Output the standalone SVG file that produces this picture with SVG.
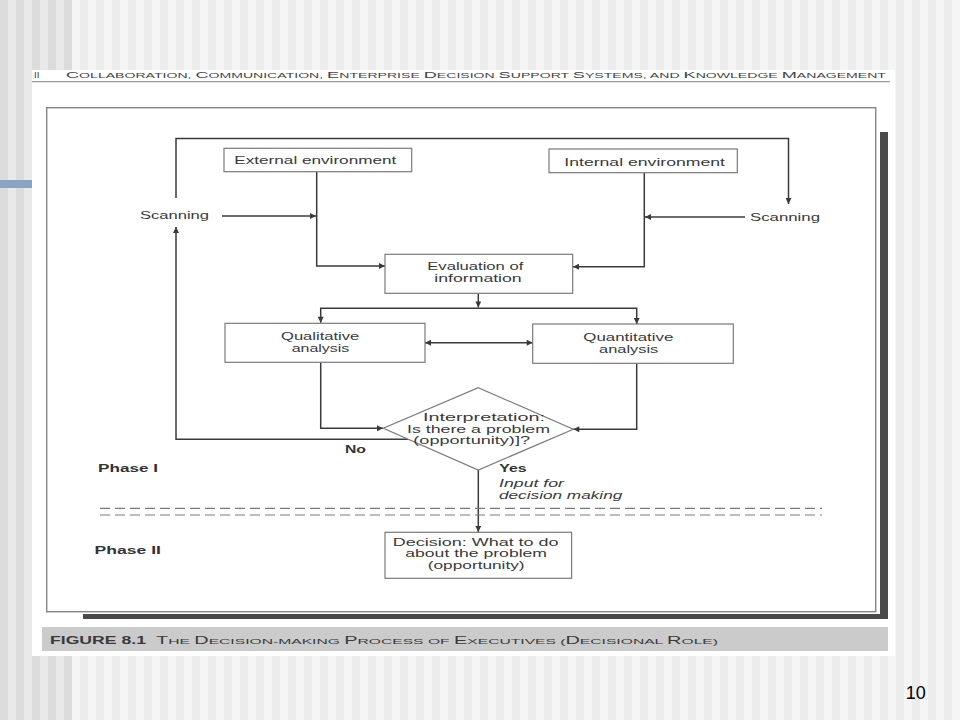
<svg xmlns="http://www.w3.org/2000/svg" width="960" height="720" viewBox="0 0 960 720">
<defs>
<pattern id="stripesL" x="0" y="0" width="16" height="720" patternUnits="userSpaceOnUse">
<rect x="0" y="0" width="8" height="720" fill="#dcdcdc"/>
<rect x="8" y="0" width="8" height="720" fill="#e9e9e9"/>
</pattern>
<pattern id="stripesR" x="0" y="0" width="16" height="720" patternUnits="userSpaceOnUse">
<rect x="0" y="0" width="8" height="720" fill="#ececec"/>
<rect x="8" y="0" width="8" height="720" fill="#f5f5f5"/>
</pattern>
<marker id="ah" viewBox="0 0 10 10" refX="10" refY="5" markerWidth="8" markerHeight="6" markerUnits="userSpaceOnUse" orient="auto-start-reverse">
<path d="M0,0 L10,5 L0,10 Z" fill="#3a3a3a"/>
</marker>
</defs>
<style>
.box{fill:#ffffff;stroke:#7a7a7a;stroke-width:1.2}
.con{fill:none;stroke:#3a3a3a;stroke-width:1.5}
.t{font-family:"Liberation Sans",Arial,sans-serif;font-size:10.4px;fill:#3a3a3a}
.b{font-weight:bold;fill:#333333;font-size:11px}
.i{font-style:italic}
.hd{font-family:"Liberation Sans",Arial,sans-serif;font-size:7.6px;fill:#444444}
.B{font-size:9.8px}
.cap{font-family:"Liberation Sans",Arial,sans-serif;font-size:8px;fill:#3a3a3a}
.C{font-size:10.2px}
</style>
<rect x="0" y="0" width="960" height="720" fill="url(#stripesR)"/>
<rect x="0" y="0" width="72" height="720" fill="url(#stripesL)"/>
<rect x="0" y="180" width="32" height="8" fill="#8ba4c4"/>
<g id="page">
<rect x="32" y="70" width="863" height="586" fill="#ffffff"/>
<text class="hd" x="34" y="78.3"><tspan class="B">II</tspan></text>
<text class="hd" x="66" y="78.3" textLength="820" lengthAdjust="spacingAndGlyphs"><tspan class="B">C</tspan>OLLABORATION, <tspan class="B">C</tspan>OMMUNICATION, <tspan class="B">E</tspan>NTERPRISE <tspan class="B">D</tspan>ECISION <tspan class="B">S</tspan>UPPORT <tspan class="B">S</tspan>YSTEMS, AND <tspan class="B">K</tspan>NOWLEDGE <tspan class="B">M</tspan>ANAGEMENT</text>
<line x1="32" y1="81.7" x2="890" y2="81.7" stroke="#9a9a9a" stroke-width="1.2"/>
<rect x="46.7" y="107.7" width="829" height="504" fill="none" stroke="#858585" stroke-width="1.4"/>
<rect x="880" y="132" width="8" height="487" fill="#4a4a4a"/>
<rect x="83" y="614" width="805" height="5" fill="#4a4a4a"/>
<rect x="42" y="627" width="846" height="24" fill="#cbcbcb"/>
<text class="cap" x="50" y="643.5" textLength="96" lengthAdjust="spacingAndGlyphs" style="font-size:10.4px;font-weight:bold">FIGURE 8.1</text>
<text class="cap" x="156" y="643.5" textLength="562" lengthAdjust="spacingAndGlyphs"><tspan class="C">T</tspan>HE <tspan class="C">D</tspan>ECISION-MAKING <tspan class="C">P</tspan>ROCESS OF <tspan class="C">E</tspan>XECUTIVES (<tspan class="C">D</tspan>ECISIONAL <tspan class="C">R</tspan>OLE)</text>
</g>
<g id="connectors">
<path class="con" d="M176,198 V138.5 H788.5 V204" marker-end="url(#ah)"/>
<path class="con" d="M222,216 H316" marker-end="url(#ah)"/>
<path class="con" d="M745,217 H645" marker-end="url(#ah)"/>
<path class="con" d="M316.7,172 V266 H385" marker-end="url(#ah)"/>
<path class="con" d="M644.3,173 V266.7 H573" marker-end="url(#ah)"/>
<path class="con" d="M478.3,293.5 V307.5" marker-end="url(#ah)"/>
<path class="con" d="M320.7,322.7 V308.3 H636.7 V324" marker-start="url(#ah)" marker-end="url(#ah)"/>
<path class="con" d="M425,342.7 H532.7" marker-start="url(#ah)" marker-end="url(#ah)"/>
<path class="con" d="M320.7,362.3 V428.3 H383" marker-end="url(#ah)"/>
<path class="con" d="M636.7,363.3 V429.3 H573.3" marker-end="url(#ah)"/>
<path class="con" d="M408.5,439.3 H176 V227" marker-end="url(#ah)"/>
<path class="con" d="M478.3,470 V532" marker-end="url(#ah)"/>
<line x1="100" y1="508.3" x2="822" y2="508.3" stroke="#7a7a7a" stroke-width="1.2" stroke-dasharray="10 5"/>
<line x1="100" y1="515" x2="822" y2="515" stroke="#7a7a7a" stroke-width="1.2" stroke-dasharray="10 5"/>
</g>
<g id="external">
<rect class="box" x="224" y="148.3" width="187.7" height="23.4"/>
<text class="t" x="234.3" y="164.3" textLength="162" lengthAdjust="spacingAndGlyphs">External environment</text>
</g>
<g id="internal">
<rect class="box" x="549" y="149" width="188.3" height="23.7"/>
<text class="t" x="564.3" y="165.5" textLength="160.7" lengthAdjust="spacingAndGlyphs">Internal environment</text>
</g>
<g id="scanning-left">
<text class="t" x="140" y="219" textLength="69" lengthAdjust="spacingAndGlyphs">Scanning</text>
</g>
<g id="scanning-right">
<text class="t" x="750" y="220.5" textLength="70" lengthAdjust="spacingAndGlyphs">Scanning</text>
</g>
<g id="evaluation">
<rect class="box" x="385" y="254.3" width="187.7" height="39"/>
<text class="t" x="427.3" y="270" textLength="96" lengthAdjust="spacingAndGlyphs">Evaluation of</text>
<text class="t" x="434.3" y="281.7" textLength="87.4" lengthAdjust="spacingAndGlyphs">information</text>
</g>
<g id="qualitative">
<rect class="box" x="225" y="323.3" width="200" height="39"/>
<text class="t" x="281" y="340" textLength="78.3" lengthAdjust="spacingAndGlyphs">Qualitative</text>
<text class="t" x="291.7" y="352.3" textLength="57.6" lengthAdjust="spacingAndGlyphs">analysis</text>
</g>
<g id="quantitative">
<rect class="box" x="532.7" y="324" width="200.6" height="39.3"/>
<text class="t" x="583.3" y="341" textLength="90" lengthAdjust="spacingAndGlyphs">Quantitative</text>
<text class="t" x="599" y="352.7" textLength="59.3" lengthAdjust="spacingAndGlyphs">analysis</text>
</g>
<g id="interpretation">
<polygon class="box" points="478.3,387.7 573.3,429.3 478.3,470 383.3,428.3"/>
<text class="t" x="423" y="420.7" textLength="122" lengthAdjust="spacingAndGlyphs">Interpretation:</text>
<text class="t" x="407" y="432.7" textLength="143" lengthAdjust="spacingAndGlyphs">Is there a problem</text>
<text class="t" x="413.3" y="444.2" textLength="116.7" lengthAdjust="spacingAndGlyphs">(opportunity)]?</text>
</g>
<g id="labels">
<text class="t b" x="345" y="452.7" textLength="21" lengthAdjust="spacingAndGlyphs">No</text>
<text class="t b" x="98" y="471.7" textLength="60" lengthAdjust="spacingAndGlyphs">Phase I</text>
<text class="t b" x="499.3" y="472.3" textLength="27.4" lengthAdjust="spacingAndGlyphs">Yes</text>
<text class="t i" x="499" y="486.7" textLength="65" lengthAdjust="spacingAndGlyphs">Input for</text>
<text class="t i" x="499" y="498.7" textLength="123.3" lengthAdjust="spacingAndGlyphs">decision making</text>
<text class="t b" x="94.6" y="554" textLength="66.4" lengthAdjust="spacingAndGlyphs">Phase II</text>
</g>
<g id="decision">
<rect class="box" x="385" y="532.3" width="186.6" height="46"/>
<text class="t" x="392.8" y="545.7" textLength="165.8" lengthAdjust="spacingAndGlyphs">Decision: What to do</text>
<text class="t" x="405.3" y="557.3" textLength="141.7" lengthAdjust="spacingAndGlyphs">about the problem</text>
<text class="t" x="427.8" y="568.8" textLength="96.8" lengthAdjust="spacingAndGlyphs">(opportunity)</text>
</g>
<g id="slide-number">
<text x="905.7" y="699.3" style="font-family:'Liberation Sans',Arial,sans-serif;font-size:18px;fill:#000000">10</text>
</g>
</svg>
